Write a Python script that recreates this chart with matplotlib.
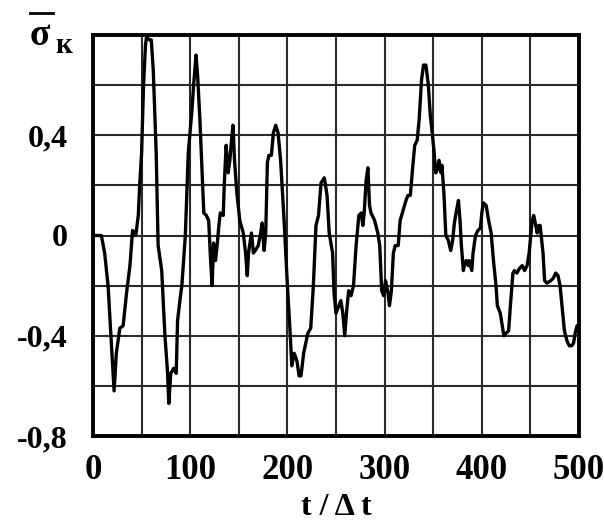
import matplotlib
matplotlib.use("Agg")
import matplotlib.pyplot as plt
from matplotlib.lines import Line2D
from matplotlib.ticker import MultipleLocator, FuncFormatter

# time (t / dt) and sigma_k values
t = [0, 8.6, 12, 15.5, 21.7, 24, 27.6, 31, 34.5, 38, 40.7, 44, 46.6, 48, 50, 52, 54, 55,
     58.6, 60, 62, 65, 67, 70.7, 74, 76.6, 78, 80, 83, 85.6, 87, 90, 91.4, 95, 98, 101.6,
     103.5, 106, 107.6, 110, 114, 116.6, 119, 121, 122.6, 124, 126, 127.7, 129.5, 131,
     134, 135, 137, 139, 140.8, 142.5, 144, 145.6, 148, 151, 154.6, 157, 158.7, 160, 163,
     165, 167, 170, 172.5, 174, 176, 177.7, 179.4, 181, 183.5, 185.6, 188, 190.4, 193,
     196.6, 200, 203, 204.5, 207, 209.8, 212, 214, 216.7, 221, 224, 226.7, 229.4, 232,
     234.6, 238, 240.8, 243, 246.5, 248, 250, 253, 255, 257, 259, 261, 263, 265.5, 268,
     270.7, 273.5, 276, 277.6, 279, 281, 282.8, 284.5, 286, 289.7, 293, 295, 297, 299,
     301, 303.5, 305, 307, 309, 311, 314, 316, 319, 322, 324, 326.5, 328.6, 331, 333.5,
     335.5, 338, 340, 342.5, 345, 347, 349, 351, 352.5, 354, 356, 358, 359, 361, 363,
     365.6, 368, 370, 371.8, 374, 376, 377.6, 379, 381, 382.6, 384, 386, 387, 389.7, 391,
     393.5, 396, 398.6, 400, 401.7, 404.5, 407, 409.6, 412, 414.6, 416, 419, 421, 422.7,
     425, 427.6, 429.6, 432, 433.6, 436, 439, 441.6, 444, 446.6, 448.7, 451.8, 453.4, 455,
     457, 458.6, 460, 463, 464.6, 467, 471, 473.6, 476, 478.4, 480.5, 483, 485, 487.6, 490,
     492.4, 494.4, 496, 498, 500]
sigma = [0, 0, -0.07, -0.2, -0.62, -0.47, -0.37, -0.36, -0.23, -0.12, 0.02, 0, 0.08, 0.2,
         0.33, 0.6, 0.76, 0.79, 0.78, 0.78, 0.66, 0.33, -0.04, -0.14, -0.4, -0.54, -0.67,
         -0.55, -0.53, -0.55, -0.34, -0.24, -0.2, 0, 0.33, 0.49, 0.6, 0.72, 0.64, 0.46, 0.09,
         0.08, 0.06, -0.1, -0.2, -0.03, -0.1, -0.04, 0.04, 0.09, 0.08, 0.2, 0.36, 0.25, 0.3,
         0.38, 0.44, 0.3, 0.17, 0.06, 0.01, -0.07, -0.16, -0.07, 0.01, -0.07, -0.06, -0.04,
         0.01, 0.05, -0.06, 0.01, 0.29, 0.32, 0.32, 0.41, 0.44, 0.41, 0.3, 0.06, -0.2, -0.4,
         -0.52, -0.47, -0.5, -0.56, -0.56, -0.47, -0.39, -0.37, -0.2, 0.04, 0.08, 0.21, 0.23,
         0.16, 0.01, -0.07, -0.23, -0.31, -0.28, -0.26, -0.31, -0.4, -0.3, -0.22, -0.24,
         -0.2, -0.04, 0.08, 0.09, 0.04, 0.09, 0.22, 0.27, 0.12, 0.09, 0.06, 0.01, -0.04,
         -0.22, -0.24, -0.18, -0.23, -0.28, -0.22, -0.07, -0.04, -0.04, 0.06, 0.1, 0.14,
         0.16, 0.16, 0.26, 0.36, 0.38, 0.46, 0.62, 0.68, 0.68, 0.6, 0.48, 0.41, 0.33, 0.25,
         0.26, 0.3, 0.25, 0.28, 0.17, 0.0, -0.02, -0.06, -0.02, 0.05, 0.1, 0.14, 0.06, -0.04,
         -0.14, -0.11, -0.1, -0.12, -0.1, -0.14, -0.07, 0, 0.02, 0.03, 0.09, 0.13, 0.12,
         0.06, 0.01, -0.1, -0.2, -0.28, -0.31, -0.36, -0.4, -0.39, -0.38, -0.27, -0.15,
         -0.14, -0.15, -0.13, -0.12, -0.14, -0.12, -0.07, 0.06, 0.08, 0.05, 0.01, 0.04, 0.04,
         -0.07, -0.18, -0.19, -0.18, -0.17, -0.15, -0.16, -0.2, -0.3, -0.38, -0.42, -0.44,
         -0.44, -0.43, -0.39, -0.36, -0.37]

plt.rcParams["font.family"] = ["Liberation Serif", "DejaVu Serif"]
plt.rcParams["font.weight"] = "bold"

fig = plt.figure(figsize=(6.04, 5.26), dpi=100)
ax = fig.add_axes([93 / 604, 90 / 526, 486 / 604, 401 / 526])

ax.plot(t, sigma, color="black", lw=2.4, solid_joinstyle="round")

ax.set_xlim(0, 500)
ax.set_ylim(-0.8, 0.8)
ax.xaxis.set_major_locator(MultipleLocator(100))
ax.xaxis.set_minor_locator(MultipleLocator(50))
ax.yaxis.set_major_locator(MultipleLocator(0.4))
ax.yaxis.set_minor_locator(MultipleLocator(0.2))


def comma_fmt(v, pos):
    if abs(v) < 1e-9:
        return "0"
    if v > 0.7:
        return ""
    return f"{v:.1f}".replace(".", ",")


ax.yaxis.set_major_formatter(FuncFormatter(comma_fmt))
ax.xaxis.set_major_formatter(FuncFormatter(lambda v, p: f"{v:.0f}"))
ax.grid(True, which="both", color="#2a2a2a", lw=1.5)
ax.tick_params(which="both", length=0)
ax.tick_params(axis="y", pad=18, labelsize=23)
ax.tick_params(axis="x", pad=13, labelsize=25)
for lab in ax.get_xticklabels() + ax.get_yticklabels():
    lab.set_fontweight("bold")
for sp in ax.spines.values():
    sp.set_linewidth(2.8)

ax.set_xlabel("t / Δ t", fontsize=23, fontweight="bold", labelpad=4)

# y label: sigma with overline and subscript к
fig.text(30 / 604, 1 - 45 / 526, "σ", fontsize=27, fontweight="bold", ha="left", va="baseline")
fig.text(55 / 604, 1 - 53 / 526, "к", fontsize=21, fontweight="bold", ha="left", va="baseline")
fig.add_artist(Line2D([30 / 604, 53 / 604], [1 - 13 / 526, 1 - 13 / 526],
                      transform=fig.transFigure, color="black", lw=2))

fig.savefig("out.png", dpi=100)
